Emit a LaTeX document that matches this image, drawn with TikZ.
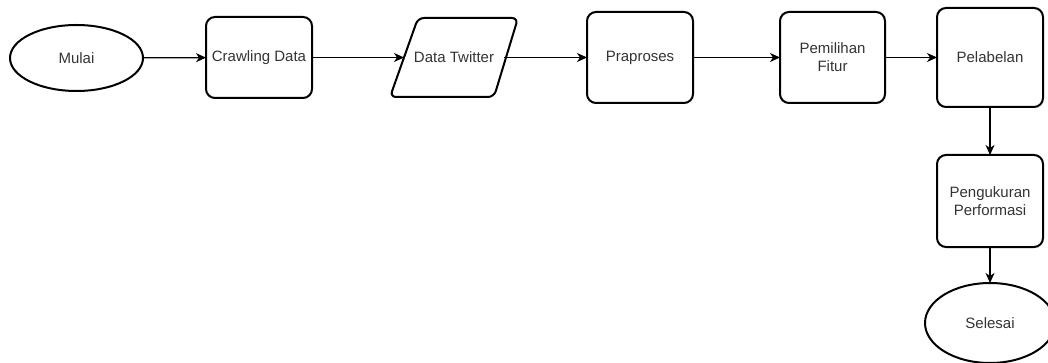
\documentclass[tikz,border=0pt]{standalone}
\usepackage{fontspec}
\setmainfont{Liberation Sans}
\usetikzlibrary{shapes.geometric,arrows.meta,calc}
\begin{document}
\begin{tikzpicture}[x=1pt,y=-1pt,
  every node/.style={font=\fontsize{15}{18}\selectfont, text=black!80, inner sep=0pt, outer sep=0pt},
  procbox/.style={draw=black, line width=2pt, rounded corners=9pt, rectangle, align=center},
  termnode/.style={draw=black, line width=2pt, ellipse},
  flow/.style={draw=black, line width=1.2pt, -{Stealth[length=10pt,width=9pt,inset=3pt]}}
]
\useasboundingbox (0,0) rectangle (1048,363);
\node[termnode, minimum width=133pt, minimum height=66pt] (mulai) at (76.5,58) {Mulai};
\node[procbox, minimum width=106pt, minimum height=81pt] (crawl) at (259,57.5) {Crawling Data};
\node[rectangle, minimum width=100pt, minimum height=79pt] (twitter) at (454,57.5) {Data Twitter};
\draw[line width=2pt, rounded corners=6pt]
  ($(twitter.center)+(-64,39.5)$) -- ($(twitter.center)+(40,39.5)$) --
  ($(twitter.center)+(64,-39.5)$) -- ($(twitter.center)+(-36,-39.5)$) -- cycle;
\node[procbox, minimum width=106pt, minimum height=91pt] (prapros) at (640,57.5) {Praproses};
\node[procbox, minimum width=105pt, minimum height=91pt] (fitur) at (832.5,57.5) {Pemilihan\\Fitur};
\node[procbox, minimum width=106pt, minimum height=99pt] (label) at (990,57.5) {Pelabelan};
\node[procbox, minimum width=106pt, minimum height=92pt] (ukur) at (990,201) {Pengukuran\\Performasi};
\node[termnode, minimum width=130pt, minimum height=80pt] (selesai) at (990,323) {Selesai};
\draw[flow] (mulai) -- (crawl);
\draw[flow] (crawl) -- (twitter);
\draw[flow] (twitter) -- (prapros);
\draw[flow] (prapros) -- (fitur);
\draw[flow] (fitur) -- (label);
\draw[flow] (label) -- (ukur);
\draw[flow] (ukur) -- (selesai);
\end{tikzpicture}
\end{document}
